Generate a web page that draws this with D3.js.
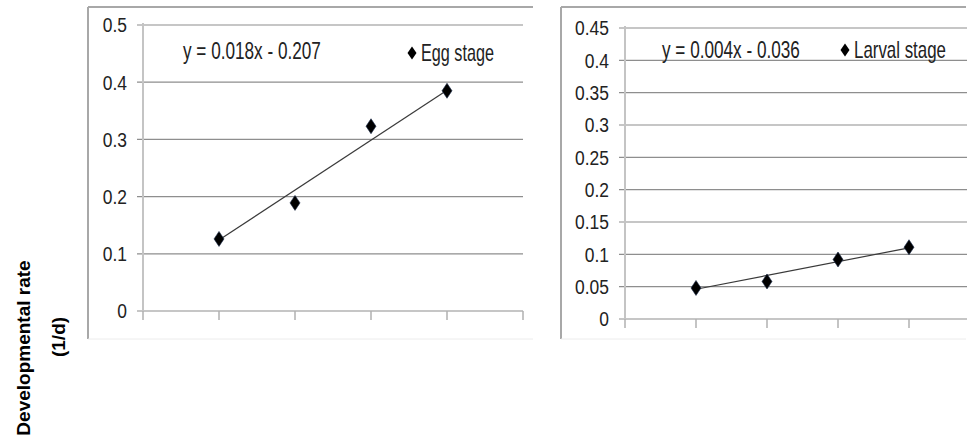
<!DOCTYPE html>
<html>
<head>
<meta charset="utf-8">
<script src="https://cdn.jsdelivr.net/npm/d3@7"></script>
<style>
  html, body { margin: 0; padding: 0; background: #fff; }
  svg { display: block; }
</style>
</head>
<body>
<svg id="chart" width="967" height="441"></svg>
<script>
// ---- data ----
const categories = [1, 2, 3, 4];
const eggRates = [0.126, 0.189, 0.323, 0.385];
const larvalRates = [0.048, 0.058, 0.092, 0.111];
// trendline fitted values at first and last category
const eggTrend = [0.124, 0.386];
const larvalTrend = [0.046, 0.110];
const eggTicks = [0, 0.1, 0.2, 0.3, 0.4, 0.5];
const larvalTicks = [0, 0.05, 0.1, 0.15, 0.2, 0.25, 0.3, 0.35, 0.4, 0.45];
const xTicks = [0, 1, 2, 3, 4, 5];
const equations = ["y = 0.018x - 0.207", "y = 0.004x - 0.036"];
const seriesNames = ["Egg stage", "Larval stage"];
const yAxisTitle = ["Developmental rate", "(1/d)"];

const svg = d3.select("#chart");
const font = "'Liberation Sans', Arial, sans-serif";

// place a text at (x, y) squeezed horizontally to a target width (narrow-face look)
function narrowText(parent, str, x, y, size, targetW, anchor) {
  const g = parent.append("g");
  const t = g.append("text")
    .attr("font-family", font).attr("font-size", size).attr("fill", "#222")
    .attr("text-anchor", anchor || "start")
    .text(str);
  const w = t.node().getComputedTextLength();
  const s = targetW / w;
  g.attr("transform", `translate(${x},${y}) scale(${s},1)`);
  return g;
}

const panels = [
  { frame: { x: 88, y: 7, w: 445, h: 332 }, x0: 143, x1: 523, y0: 311, y1: 25,
    ymax: 0.5, ticks: eggTicks, values: eggRates, trend: eggTrend,
    eq: equations[0], eqX: 183, eqY: 59, eqW: 138,
    name: seriesNames[0], legX: 412, legY: 53, nameW: 73 },
  { frame: { x: 561, y: 7, w: 405, h: 332 }, x0: 625, x1: 980, y0: 319, y1: 28,
    ymax: 0.45, ticks: larvalTicks, values: larvalRates, trend: larvalTrend,
    eq: equations[1], eqX: 662, eqY: 58, eqW: 138,
    name: seriesNames[1], legX: 845, legY: 50, nameW: 92 }
];

const diamond = (w, h) => `M0,${-h/2}L${w/2},0L0,${h/2}L${-w/2},0Z`;

panels.forEach(p => {
  const g = svg.append("g");
  const f = p.frame;
  // frame
  g.append("line").attr("x1", f.x).attr("x2", f.x + f.w).attr("y1", f.y).attr("y2", f.y)
    .attr("stroke", "#a8a8a8").attr("stroke-width", 2);
  g.append("line").attr("x1", f.x).attr("x2", f.x).attr("y1", f.y).attr("y2", f.y + f.h)
    .attr("stroke", "#a8a8a8").attr("stroke-width", 2);
  g.append("line").attr("x1", f.x).attr("x2", f.x + f.w).attr("y1", f.y + f.h).attr("y2", f.y + f.h)
    .attr("stroke", "#ececec").attr("stroke-width", 1);

  const x = d3.scaleLinear().domain([0, 5]).range([p.x0, p.x1]);
  const y = d3.scaleLinear().domain([0, p.ymax]).range([p.y0, p.y1]);
  const xRight = Math.min(p.x1, 967);

  // gridlines (with left tick stub)
  g.selectAll(".grid").data(p.ticks).join("line")
    .attr("x1", p.x0 - 6).attr("x2", xRight)
    .attr("y1", d => y(d)).attr("y2", d => y(d))
    .attr("stroke", "#8e8e8e").attr("stroke-width", 1.2);

  // y axis line
  g.append("line").attr("x1", p.x0).attr("x2", p.x0).attr("y1", p.y1 - 2).attr("y2", p.y0 + 1)
    .attr("stroke", "#c4c4c4").attr("stroke-width", 2);

  // x ticks
  g.selectAll(".xt").data(xTicks.filter(d => x(d) <= 967)).join("line")
    .attr("x1", d => x(d)).attr("x2", d => x(d))
    .attr("y1", p.y0).attr("y2", p.y0 + 9)
    .attr("stroke", "#b0b0b0").attr("stroke-width", 1.5);

  // y tick labels
  p.ticks.forEach(d => {
    const str = String(d);
    const tmp = g.append("text").attr("font-family", font).attr("font-size", 20.5).text(str);
    const w = tmp.node().getComputedTextLength();
    tmp.remove();
    narrowText(g, str, p.x0 - 16, y(d) + 7.4, 20.5, w * 0.85, "end");
  });

  // trendline
  g.append("line")
    .attr("x1", x(categories[0])).attr("y1", y(p.trend[0]))
    .attr("x2", x(categories[categories.length - 1])).attr("y2", y(p.trend[1]))
    .attr("stroke", "#3a3a3a").attr("stroke-width", 1.2);

  // points
  g.selectAll(".pt").data(p.values).join("path")
    .attr("d", diamond(10, 15))
    .attr("transform", (d, i) => `translate(${x(categories[i])},${y(d)})`)
    .attr("fill", "#000").attr("stroke", "#1a2a4a").attr("stroke-width", 0.6);

  // equation
  narrowText(g, p.eq, p.eqX, p.eqY, 23, p.eqW);

  // legend
  g.append("path").attr("d", diamond(9, 13))
    .attr("transform", `translate(${p.legX},${p.legY})`).attr("fill", "#000");
  narrowText(g, p.name, p.legX + 9, p.legY + 8, 23, p.nameW);
});

// shared y-axis title
svg.append("text")
  .attr("transform", "translate(30,348) rotate(-90)")
  .attr("text-anchor", "middle")
  .attr("font-family", font)
  .attr("font-weight", "bold").attr("font-size", 19).attr("fill", "#000")
  .text(yAxisTitle[0]);
svg.append("text")
  .attr("transform", "translate(65,337) rotate(-90)")
  .attr("text-anchor", "middle")
  .attr("font-family", font)
  .attr("font-weight", "bold").attr("font-size", 19).attr("fill", "#000")
  .text(yAxisTitle[1]);
</script>
</body>
</html>
